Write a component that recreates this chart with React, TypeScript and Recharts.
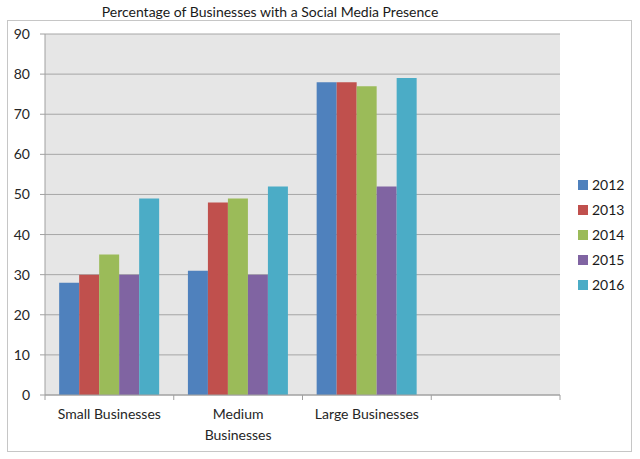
import { Bar, BarChart, CartesianGrid, XAxis, YAxis } from 'recharts'

const FONT = 'Lato, "Open Sans", sans-serif'

const title = 'Percentage of Businesses with a Social Media Presence'
const categories = ['Small Businesses', 'Medium\nBusinesses', 'Large Businesses', '']
const years = ['2012', '2013', '2014', '2015', '2016']
const colors = ['#4f81bd', '#c0504d', '#9bbb59', '#8064a2', '#4bacc6']
const values2012 = [28, 31, 78]
const values2013 = [30, 48, 78]
const values2014 = [35, 49, 77]
const values2015 = [30, 30, 52]
const values2016 = [49, 52, 79]
const yTicks = [0, 10, 20, 30, 40, 50, 60, 70, 80, 90]

const series = [values2012, values2013, values2014, values2015, values2016]

const data = categories.map((name, i) => {
  const row: Record<string, string | number | undefined> = { name }
  years.forEach((year, j) => {
    row[year] = series[j][i]
  })
  return row
})

// labels centred under each band, tick marks on the band edges like Excel
function CategoryTick({ x, y, payload, index, visibleTicksCount }: any) {
  const lines = String(payload.value).split('\n')
  const half = payload.offset ?? 0
  const top = y - 11
  return (
    <g>
      <line x1={x - half} x2={x - half} y1={top} y2={top + 5} stroke="#a0a0a0" />
      {index === visibleTicksCount - 1 && (
        <line x1={x + half} x2={x + half} y1={top} y2={top + 5} stroke="#a0a0a0" />
      )}
      <text x={x} y={y} textAnchor="middle" fill="#262626" fontSize={14} fontFamily={FONT}>
        {lines.map((line, i) => (
          <tspan key={i} x={x} dy={i === 0 ? '0.9em' : '1.5em'}>
            {line}
          </tspan>
        ))}
      </text>
    </g>
  )
}

export default function App() {
  return (
    <div style={{ position: 'absolute', left: 0, top: 0, width: 640, height: 459, background: '#fff', fontFamily: FONT }}>
      <div
        style={{
          position: 'absolute',
          left: 7,
          top: 20,
          width: 625,
          height: 432,
          boxSizing: 'border-box',
          border: '1px solid #c6c6c6',
        }}
      />
      <div style={{ position: 'absolute', left: 0, top: 3, width: 540, textAlign: 'center', fontSize: 14, color: '#1a1a1a' }}>
        {title}
      </div>
      <div style={{ position: 'absolute', left: 0, top: 0 }}>
        <BarChart
          width={640}
          height={459}
          data={data}
          margin={{ top: 34, right: 80, left: 15, bottom: 8 }}
          barCategoryGap="11%"
          barGap={0}
        >
          <CartesianGrid vertical={false} stroke="#a6a6a6" fill="#e6e6e6" />
          <XAxis
            dataKey="name"
            tick={<CategoryTick />}
            tickLine={false}
            axisLine={{ stroke: '#a0a0a0' }}
            tickSize={0}
            tickMargin={11}
            height={56}
            interval={0}
          />
          <YAxis
            domain={[0, 90]}
            ticks={yTicks}
            width={30}
            tickSize={5}
            tickMargin={10}
            stroke="#a0a0a0"
            tick={{ fill: '#262626', fontSize: 14, fontFamily: FONT }}
          />
          {years.map((year, i) => (
            <Bar key={year} dataKey={year} fill={colors[i]} isAnimationActive={false} />
          ))}
        </BarChart>
      </div>
      <div style={{ position: 'absolute', left: 578, top: 172 }}>
        {years.map((year, i) => (
          <div key={year} style={{ display: 'flex', alignItems: 'center', height: 25, fontSize: 14, color: '#1a1a1a' }}>
            <span style={{ display: 'inline-block', width: 10, height: 10, background: colors[i], marginRight: 4 }} />
            {year}
          </div>
        ))}
      </div>
    </div>
  )
}
